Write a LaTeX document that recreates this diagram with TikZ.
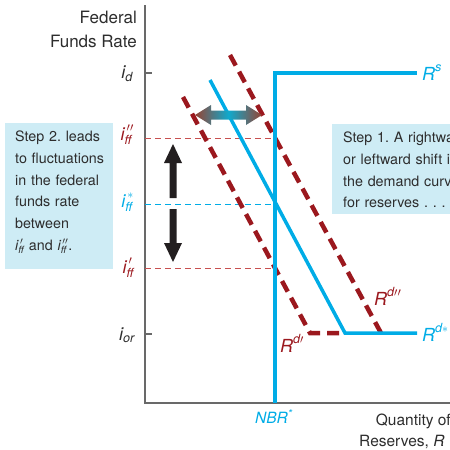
\documentclass[tikz,border=0pt]{standalone}
\usepackage{amsmath}
\usepackage{fontspec}
\setmainfont{TeX Gyre Heros}
\frenchspacing
\definecolor{cblue}{RGB}{0,172,230}
\definecolor{dred}{RGB}{155,24,30}
\definecolor{lred}{RGB}{200,80,80}
\definecolor{boxfill}{RGB}{206,236,245}
\definecolor{txt}{RGB}{45,45,45}
\definecolor{axisgray}{RGB}{105,105,105}
\definecolor{brn}{RGB}{150,66,50}
\definecolor{tealmid}{RGB}{15,170,205}
\definecolor{blk}{RGB}{35,31,32}
\newcommand{\itx}[1]{\text{\itshape #1}}
\begin{document}
\begin{tikzpicture}[x=1pt,y=-1pt,
  axisline/.style={draw=axisgray,line width=1.6pt},
  supply/.style={draw=cblue,line width=4pt},
  demand/.style={draw=cblue,line width=3.5pt},
  shifted/.style={draw=dred,line width=4.5pt,dash pattern=on 12pt off 7pt},
  guide/.style={line width=1pt,dash pattern=on 6pt off 4pt},
  lbl/.style={inner sep=0pt,text=txt,font=\fontsize{17}{20}\selectfont},
  ilbl/.style={inner sep=0pt,anchor=base east,font=\fontsize{18}{20}\selectfont},
  rlbl/.style={inner sep=0pt,anchor=base west,font=\fontsize{18}{20}\selectfont},
  boxtxt/.style={inner sep=0pt,anchor=north west,text=txt,align=left,font=\fontsize{14.3}{21.7}\selectfont},
  infobox/.style={fill=boxfill,draw=none}]
\useasboundingbox (0,0) rectangle (450,450);
\clip (0,0) rectangle (450,450);

% info boxes
\path[infobox] (5,123) rectangle (113,269);
\node[boxtxt,text width=100pt] (step2) at (15,131) {Step 2. leads\\to fluctuations\\in the federal\\funds rate\\between\\$\itx{i}^{\,\prime}_{\itx{ff}}$ and $\itx{i}^{\,\prime\prime}_{\itx{ff}}$.};
\path[infobox] (332,124) rectangle (470,214);
\node[boxtxt,text width=140pt] (step1) at (343,132) {Step 1. A rightward\\or leftward shift in\\the demand curve\\for reserves . . .};

% axes
\coordinate (top) at (145,5);
\coordinate (origin) at (145,403);
\coordinate (xend) at (452,403);
\draw[axisline] (top) -- (origin) -- (xend);
\draw[axisline] (145,73) -- (152,73);
\draw[axisline] (145,334) -- (152,334);

% guides
\coordinate (g2) at (275,138);
\coordinate (gs) at (275,204);
\coordinate (g1) at (275,268);
\draw[guide,draw=lred] (145,138) -- (g2);
\draw[guide,draw=cblue] (145,204) -- (gs);
\draw[guide,draw=lred] (145,268) -- (g1);

% axis labels
\node[lbl,anchor=base east] (fed) at (137,23) {Federal};
\node[lbl,anchor=base east] (ffr) at (137,47) {Funds Rate};
\node[ilbl,text=txt] (id) at (133,78) {$\itx{i}_{\itx{d}}$};
\node[ilbl,text=dred] (iff2) at (134,140) {$\itx{i}^{\,\prime\prime}_{\itx{ff}}$};
\node[ilbl,text=cblue] (iffs) at (134,207) {$\itx{i}^{\,*}_{\itx{ff}}$};
\node[ilbl,text=dred] (iff1) at (134,273) {$\itx{i}^{\,\prime}_{\itx{ff}}$};
\node[ilbl,text=txt] (ior) at (135,340) {$\itx{i}_{\itx{or}}$};

% shifted demand curves
\coordinate (r2a) at (230,55);
\coordinate (r2b) at (381,333);
\draw[shifted] (r2a) -- (r2b);
\coordinate (r1a) at (183,97);
\coordinate (r1b) at (310,333);
\coordinate (kink) at (345,333);
\draw[shifted] (r1a) -- (r1b) -- (kink);

% supply
\coordinate (nbr) at (275,403);
\coordinate (sk) at (275,73);
\coordinate (send) at (417,73);
\draw[supply] (nbr) -- (sk) -- (send);

% demand
\coordinate (da) at (210,80);
\coordinate (dend) at (417,333);
\draw[demand] (da) -- (kink) -- (dend);

% curve labels
\node[rlbl,text=cblue] (rs) at (422,80) {$\itx{R}^{\itx{s}}$};
\node[rlbl,text=cblue] (rds) at (422,341) {$\itx{R}^{\itx{d}*}$};
\node[rlbl,text=dred] (rd2) at (374,305) {$\itx{R}^{\itx{d}\prime\prime}$};
\node[rlbl,text=dred] (rd1) at (280,352) {$\itx{R}^{\itx{d}\prime}$};
\node[inner sep=0pt,anchor=base west,text=cblue,font=\fontsize{15.5}{18}\selectfont\itshape] (nbrl) at (255,423) {NBR\textsuperscript{*}};
\node[lbl,anchor=base east,font=\fontsize{15.5}{18}\selectfont] (q1) at (451,425) {Quantity of};
\node[lbl,anchor=base west,font=\fontsize{15.5}{18}\selectfont] (q2) at (359,446) {Reserves, \textit{R}};

% horizontal double arrow (shaded)
\path[left color=brn,right color=brn,middle color=tealmid]
  (195,115) -- (211,105) -- (211,110.5) -- (246,110.5) -- (246,105) -- (262,115)
  -- (246,125) -- (246,119.5) -- (211,119.5) -- (211,125) -- cycle;

% vertical arrows
\fill[blk] (173,144) -- (182,163) -- (176.5,163) -- (176.5,198) -- (169.5,198) -- (169.5,163) -- (164,163) -- cycle;
\fill[blk] (173,262) -- (182,243) -- (176.5,243) -- (176.5,209) -- (169.5,209) -- (169.5,243) -- (164,243) -- cycle;
\end{tikzpicture}
\end{document}
